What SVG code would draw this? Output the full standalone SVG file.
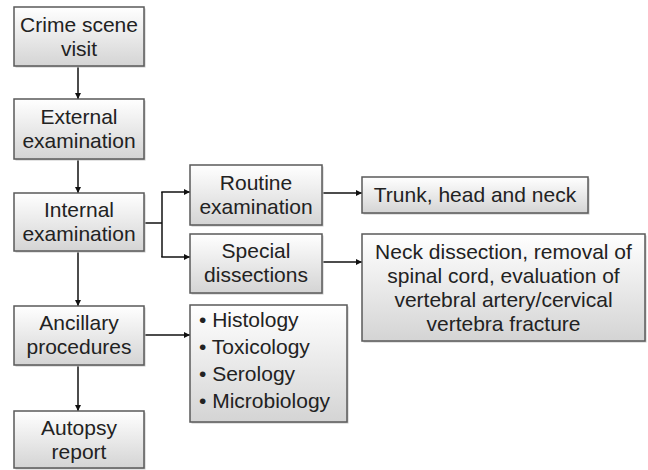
<svg xmlns="http://www.w3.org/2000/svg" width="648" height="470" viewBox="0 0 648 470">
<style>
.box{fill:url(#g);stroke:#5a5a5a;stroke-width:1.5}
.sh{fill:#c8c8c8}
text{font-family:"Liberation Sans",Arial,sans-serif;font-size:21px;fill:#222}
.c{text-anchor:middle}
.ln{fill:none;stroke:#111;stroke-width:1.5}
</style>
<defs>
<linearGradient id="g" x1="0" y1="0" x2="0" y2="1">
<stop offset="0" stop-color="#ffffff"/>
<stop offset="1" stop-color="#d4d4d4"/>
</linearGradient>
<marker id="a" viewBox="0 0 10 10" refX="10" refY="5" markerWidth="6" markerHeight="6" markerUnits="userSpaceOnUse" orient="auto">
<path d="M0,0 L10,5 L0,10 z" fill="#111"/>
</marker>
</defs>
<g id="connectors">
<path class="ln" d="M78,66 V99" marker-end="url(#a)"/>
<path class="ln" d="M78,159 V193" marker-end="url(#a)"/>
<path class="ln" d="M144,223 H162"/>
<path class="ln" d="M162,192 V257"/>
<path class="ln" d="M161.25,192 H190" marker-end="url(#a)"/>
<path class="ln" d="M161.25,257 H190" marker-end="url(#a)"/>
<path class="ln" d="M78,251 V306" marker-end="url(#a)"/>
<path class="ln" d="M78,365 V411" marker-end="url(#a)"/>
<path class="ln" d="M144,335 H190" marker-end="url(#a)"/>
<path class="ln" d="M322,193 H362" marker-end="url(#a)"/>
<path class="ln" d="M322,262 H362" marker-end="url(#a)"/>
</g>
<g id="crime">
<rect class="sh" x="15.5" y="8.5" width="130" height="59"/>
<rect class="box" x="14" y="7" width="130" height="59"/>
<text class="c" x="79" y="32">Crime scene</text>
<text class="c" x="79" y="56">visit</text>
</g>
<g id="external">
<rect class="sh" x="15.5" y="100.5" width="130" height="60"/>
<rect class="box" x="14" y="99" width="130" height="60"/>
<text class="c" x="79" y="124">External</text>
<text class="c" x="79" y="148">examination</text>
</g>
<g id="internal">
<rect class="sh" x="15.5" y="194.5" width="130" height="58"/>
<rect class="box" x="14" y="193" width="130" height="58"/>
<text class="c" x="79" y="217">Internal</text>
<text class="c" x="79" y="241">examination</text>
</g>
<g id="ancillary">
<rect class="sh" x="15.5" y="307.5" width="130" height="59"/>
<rect class="box" x="14" y="306" width="130" height="59"/>
<text class="c" x="79" y="330">Ancillary</text>
<text class="c" x="79" y="354">procedures</text>
</g>
<g id="autopsy">
<rect class="sh" x="15.5" y="412.5" width="130" height="57"/>
<rect class="box" x="14" y="411" width="130" height="57"/>
<text class="c" x="79" y="435">Autopsy</text>
<text class="c" x="79" y="459">report</text>
</g>
<g id="routine">
<rect class="sh" x="191.5" y="166.5" width="132" height="60"/>
<rect class="box" x="190" y="165" width="132" height="60"/>
<text class="c" x="256" y="190">Routine</text>
<text class="c" x="256" y="214">examination</text>
</g>
<g id="special">
<rect class="sh" x="191.5" y="235.5" width="132" height="59"/>
<rect class="box" x="190" y="234" width="132" height="59"/>
<text class="c" x="256" y="258">Special</text>
<text class="c" x="256" y="282">dissections</text>
</g>
<g id="trunk">
<rect class="sh" x="363.5" y="178.5" width="226" height="36"/>
<rect class="box" x="362" y="177" width="226" height="36"/>
<text class="c" x="475" y="202">Trunk, head and neck</text>
</g>
<g id="neck">
<rect class="sh" x="363.5" y="235.5" width="283" height="107"/>
<rect class="box" x="362" y="234" width="283" height="107"/>
<text class="c" x="503.5" y="259">Neck dissection, removal of</text>
<text class="c" x="503.5" y="283">spinal cord, evaluation of</text>
<text class="c" x="503.5" y="307">vertebral artery/cervical</text>
<text class="c" x="503.5" y="331">vertebra fracture</text>
</g>
<g id="tests">
<rect class="sh" x="191.5" y="306.5" width="157" height="117"/>
<rect class="box" x="190" y="305" width="157" height="117"/>
<text x="199" y="327">• Histology</text>
<text x="199" y="354">• Toxicology</text>
<text x="199" y="381">• Serology</text>
<text x="199" y="408">• Microbiology</text>
</g>
</svg>
